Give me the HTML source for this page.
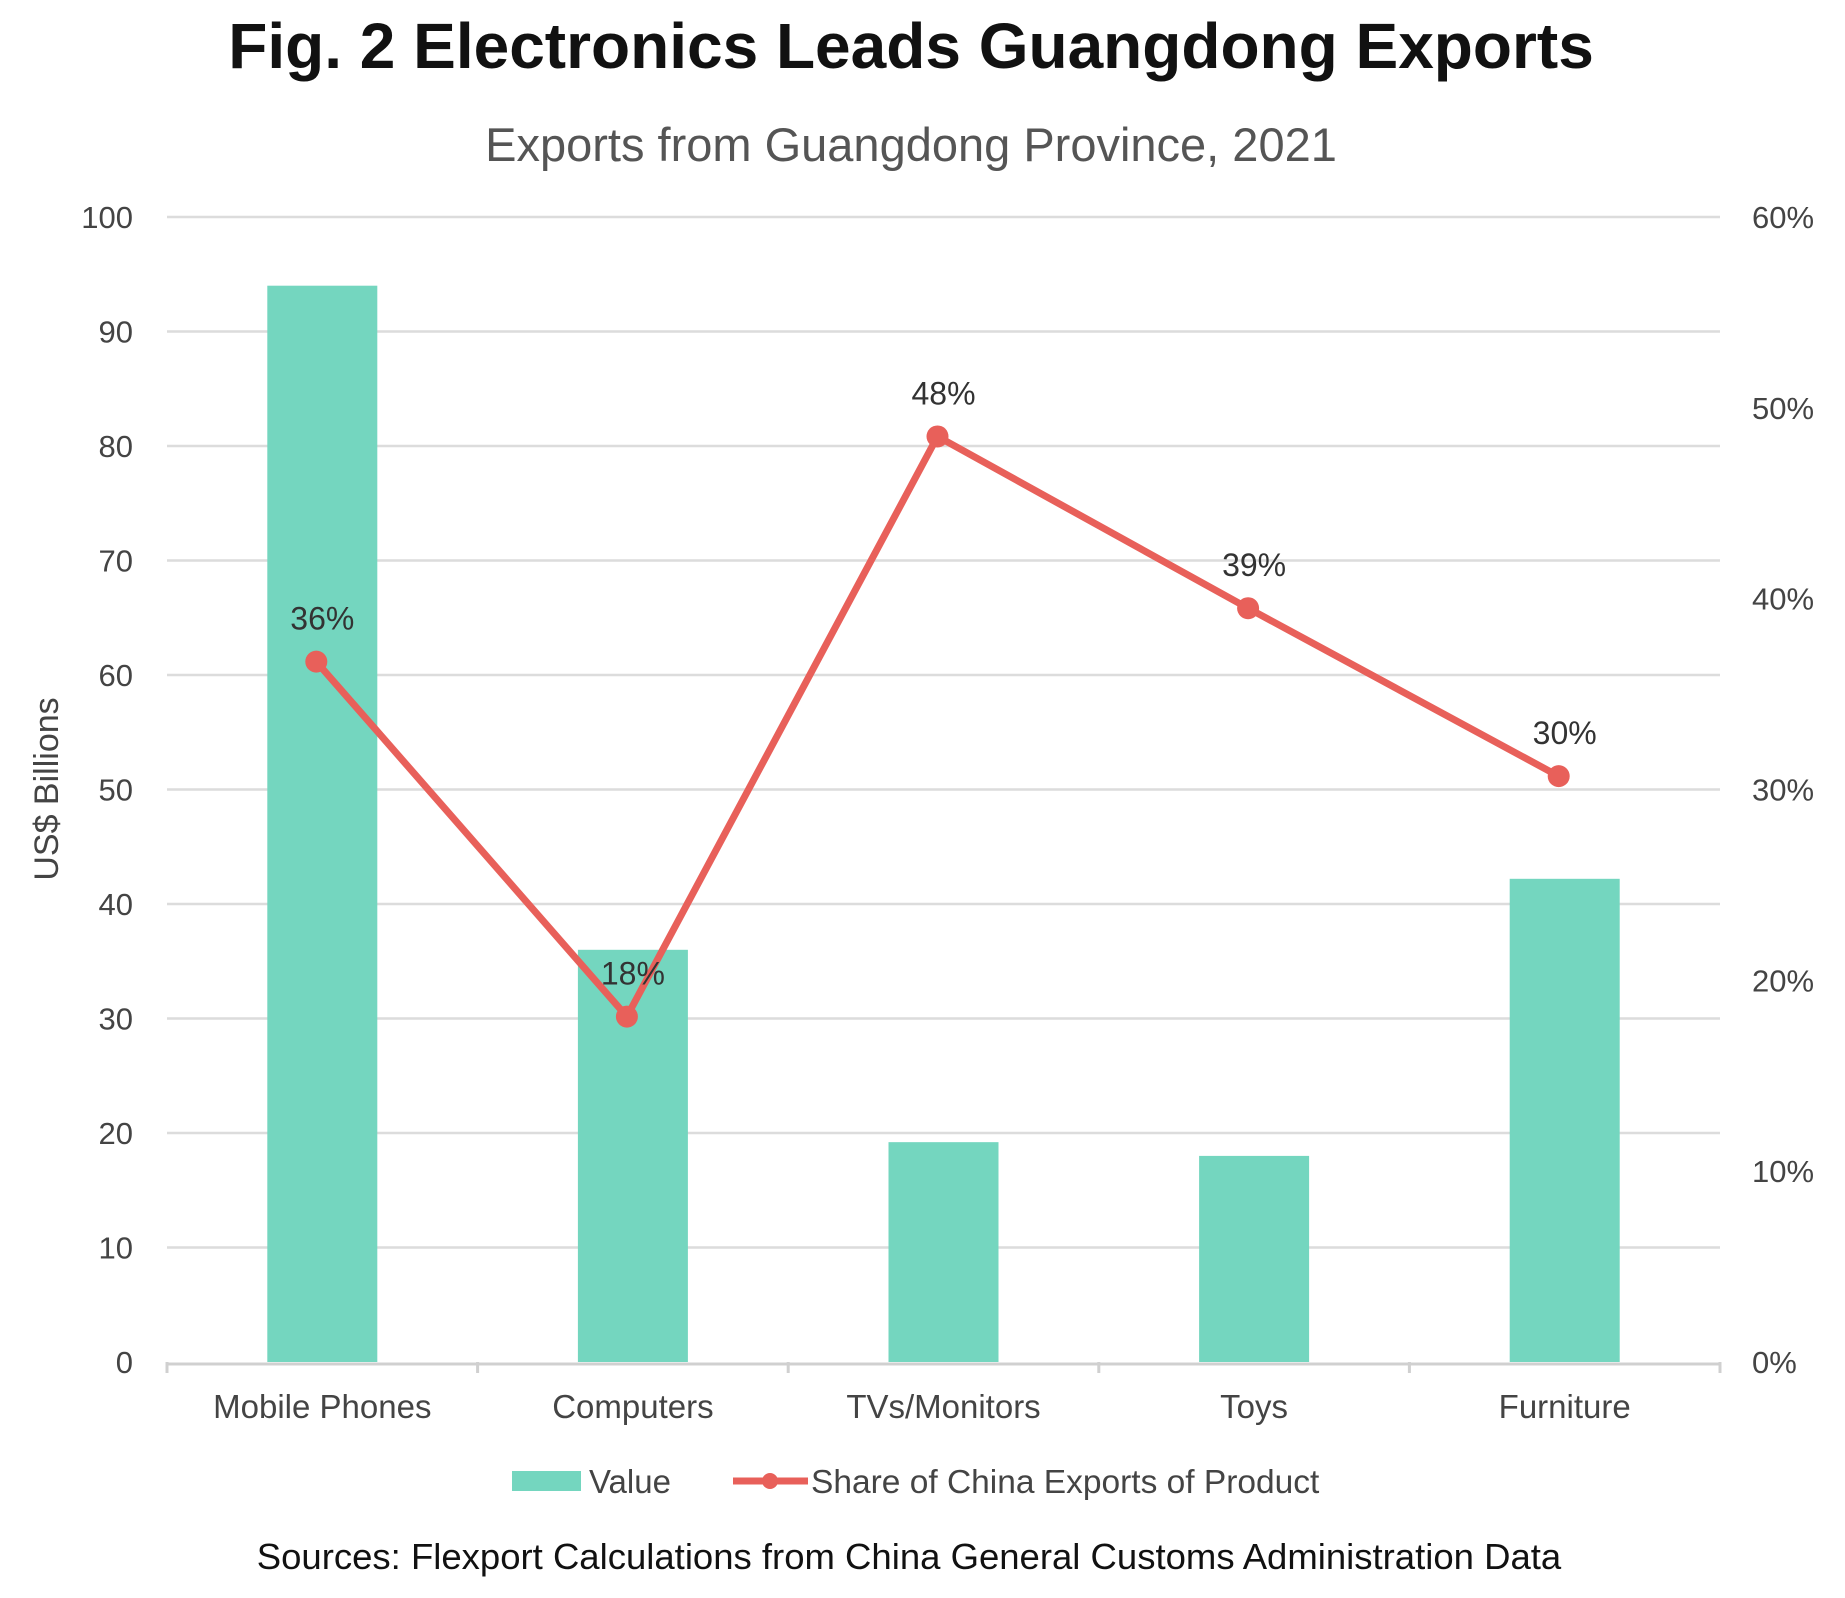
<!DOCTYPE html>
<html><head><meta charset="utf-8"><style>
body{margin:0;background:#fff;}
svg{display:block;font-family:"Liberation Sans",sans-serif;}
</style></head><body>
<svg id="chart" width="1845" height="1598" viewBox="0 0 1845 1598">
<text x="911" y="68" text-anchor="middle" font-size="64" font-weight="bold" fill="#111">Fig. 2 Electronics Leads Guangdong Exports</text>
<text x="911" y="161" text-anchor="middle" font-size="47" fill="#555">Exports from Guangdong Province, 2021</text>
<text transform="translate(58,789) rotate(-90)" text-anchor="middle" font-size="34" fill="#444">US$ Billions</text>
<g id="grid"></g><g id="bars"></g><g id="line"></g><g id="labels"></g>
<g>
<rect x="512" y="1471" width="69" height="20" fill="#74d6bf"/>
<text x="589" y="1493" font-size="33" fill="#444">Value</text>
<line x1="733" y1="1481" x2="808" y2="1481" stroke="#e8605a" stroke-width="7"/>
<circle cx="770" cy="1481" r="8" fill="#e8605a"/>
<text x="811" y="1493" font-size="33.5" fill="#444">Share of China Exports of Product</text>
</g>
<text x="909" y="1569" text-anchor="middle" font-size="36.5" fill="#111">Sources: Flexport Calculations from China General Customs Administration Data</text>
</svg>
<script>
const categories=["Mobile Phones","Computers","TVs/Monitors","Toys","Furniture"];
const values=[94,36,19.2,18,42.2];
const shares=[36.7,18.1,48.5,39.5,30.7];
const shareLabels=["36%","18%","48%","39%","30%"];
const leftTicks=[0,10,20,30,40,50,60,70,80,90,100];
const rightTicks=[0,10,20,30,40,50,60];
const NS="http://www.w3.org/2000/svg";
const X0=167,X1=1720,Y0=1362,Y1=217;
const band=(X1-X0)/categories.length;
const xc=i=>X0+band*(i+0.5);
const xp=i=>xc(i)-6;
const yL=v=>Y0-(v/100)*(Y0-Y1);
const yR=v=>Y0-(v/60)*(Y0-Y1);
function mk(tag,attrs,parent,text){const e=document.createElementNS(NS,tag);for(const k in attrs)e.setAttribute(k,attrs[k]);if(text!==undefined)e.textContent=text;document.getElementById(parent).appendChild(e);return e;}
leftTicks.forEach(t=>{
 if(t>0){const g=mk('line',{x1:X0,x2:X1,y1:yL(t),y2:yL(t),stroke:'#dcdcdc','stroke-width':2.5},'grid');
 
 }
 const l=mk('text',{x:133,y:yL(t)+11,'text-anchor':'end','font-size':31,fill:'#444'},'grid',String(t));
 
 
});
rightTicks.forEach(t=>{
 const l=mk('text',{x:1752,y:yR(t)+11,'font-size':31,fill:'#444'},'grid',t+'%');
 
 
});
const ax=mk('line',{x1:X0,x2:X1,y1:Y0+2,y2:Y0+2,stroke:'#d0d0d0','stroke-width':3},'grid');


for(let i=0;i<=categories.length;i++){
 const tk=mk('line',{x1:X0+band*i,x2:X0+band*i,y1:Y0,y2:Y0+11,stroke:'#d0d0d0','stroke-width':3},'grid');
 
 
}
categories.forEach((c,i)=>{
 const b=mk('rect',{x:xc(i)-55,y:yL(values[i]),width:110,height:Y0-yL(values[i]),fill:'#74d6bf'},'bars');
 
 
 const t=mk('text',{x:xc(i),y:Y0+56,'text-anchor':'middle','font-size':33,fill:'#444'},'labels',c);
 
 
});
const pts=shares.map((s,i)=>xp(i)+','+yR(s)).join(' ');
const pl=mk('polyline',{points:pts,fill:'none',stroke:'#e8605a','stroke-width':7,'stroke-linejoin':'round'},'line');


shares.forEach((s,i)=>{
 const c=mk('circle',{cx:xp(i),cy:yR(s),r:11,fill:'#e8605a'},'line');
 
 
 const t=mk('text',{x:xc(i),y:yR(s)-32,'text-anchor':'middle','font-size':32,fill:'#333'},'labels',shareLabels[i]);
 
 
});
</script>
</body></html>
